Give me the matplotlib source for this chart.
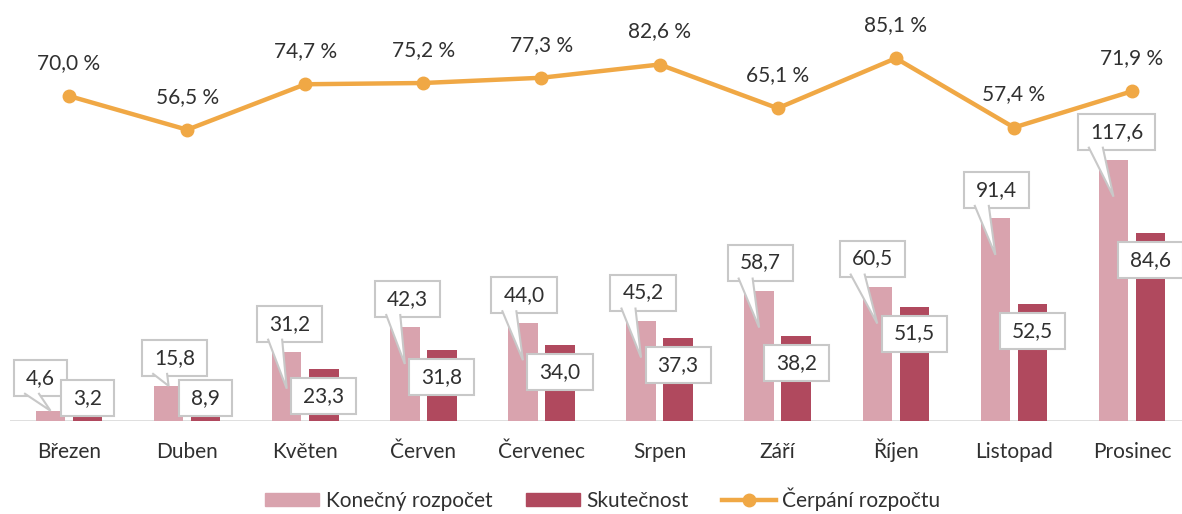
import numpy as np
import matplotlib
matplotlib.use('Agg')
import matplotlib.pyplot as plt
from matplotlib.patches import Patch, Polygon, Rectangle
from matplotlib.lines import Line2D

plt.rcParams['font.family'] = ['Lato', 'DejaVu Sans']

# data
mesice = ['Březen', 'Duben', 'Květen', 'Červen', 'Červenec', 'Srpen',
          'Září', 'Říjen', 'Listopad', 'Prosinec']
konecny = [4.6, 15.8, 31.2, 42.3, 44.0, 45.2, 58.7, 60.5, 91.4, 117.6]
skutecnost = [3.2, 8.9, 23.3, 31.8, 34.0, 37.3, 38.2, 51.5, 52.5, 84.6]
cerpani = [70.0, 56.5, 74.7, 75.2, 77.3, 82.6, 65.1, 85.1, 57.4, 71.9]

# horizontal shift of the callouts (pixels), as placed in the original
kon_dx = [-10, 6, 3, 3, 1, 2, 1, -5, 1, 3]

c_pink = '#D9A3AE'
c_red = '#B0495E'
c_orange = '#F0A845'
c_text = '#303030'
c_box = '#C8C8C8'
fs = 15

W, H = 1182, 514
fig = plt.figure(figsize=(W / 100, H / 100), dpi=100)
ax_left, ax_bottom = 10 / W, (H - 421) / H
ax_w, ax_h = 1 - ax_left, 400 / H
ax = fig.add_axes([ax_left, ax_bottom, ax_w, ax_h])
ax2 = ax.twinx()

x = np.arange(len(mesice))
xmin, xmax = -0.5, 9.423
ymax = 180
ax.set_xlim(xmin, xmax)
ax.set_ylim(0, ymax)
ax2.set_ylim(-60, 100)

# pixel -> data units
px_x = (xmax - xmin) / (ax_w * W)
px_y = ymax / (ax_h * H)
px_y2 = 160 / (ax_h * H)

off = 0.157
bw = 0.25
ax.bar(x - off, konecny, bw, color=c_pink, zorder=2)
ax.bar(x + off, skutecnost, bw, color=c_red, zorder=2)

ax2.plot(x, cerpani, color=c_orange, lw=3.2, marker='o', ms=9, zorder=3)
for xi, v in zip(x, cerpani):
    ax2.text(xi, v + 33 * px_y2, f'{v:.1f} %'.replace('.', ','), ha='center',
             va='center', fontsize=fs, color=c_text)

renderer = fig.canvas.get_renderer()
box_h = 36


def label_box(tx, ty, s, z):
    t = ax.text(tx, ty, s, ha='center', va='center', fontsize=fs,
                color=c_text, zorder=z + 1)
    w = t.get_window_extent(renderer).width + 24
    ax.add_patch(Rectangle((tx - w / 2 * px_x, ty - box_h / 2 * px_y),
                           w * px_x, box_h * px_y, fc='white', ec=c_box,
                           lw=1.5, zorder=z))
    return w


# callouts for Konečný rozpočet
for xi, v, dx in zip(x, konecny, kon_dx):
    bx = xi - off
    tx = bx + dx * px_x
    ty = v + (33 if v / px_y < 20 else 28) * px_y
    w = label_box(tx, ty, f'{v:.1f}'.replace('.', ','), 5)
    depth = 37 if v / px_y > 60 else 0
    tip = (bx, v - depth * px_y)
    by = ty - (box_h / 2 - 2) * px_y
    left = tx - w / 2 * px_x
    b1 = (left + 11 * px_x, by)
    b2 = (left + 25 * px_x, by)
    ax.add_patch(Polygon([b1, tip, b2], closed=True, fc='white', ec='none', zorder=6.5))
    ax.plot([b1[0], tip[0], b2[0]], [b1[1], tip[1], b2[1]], color=c_box, lw=1.5,
            zorder=6.6, solid_joinstyle='miter')

# labels for Skutečnost
for xi, v in zip(x, skutecnost):
    ty = max(v - 27 * px_y, 23 * px_y)
    label_box(xi + off, ty, f'{v:.1f}'.replace('.', ','), 8)

ax.set_xticks(x)
ax.set_xticklabels(mesice, fontsize=fs, color=c_text, va='baseline')
ax.tick_params(axis='x', length=0, pad=27)
ax.set_yticks([])
ax2.set_yticks([])
for a in (ax, ax2):
    for s in ('top', 'left', 'right', 'bottom'):
        a.spines[s].set_visible(False)
ax.axhline(0, color='#D9D9D9', lw=1.2, zorder=1)
ax.set_zorder(ax2.get_zorder() + 1)
ax.patch.set_visible(False)

handles = [Patch(color=c_pink, label='Konečný rozpočet'),
           Patch(color=c_red, label='Skutečnost'),
           Line2D([], [], color=c_orange, lw=3.2, marker='o', ms=9,
                  label='Čerpání rozpočtu')]
leg = fig.legend(handles=handles, loc='center', bbox_to_anchor=(0.51, 15 / H),
                 ncol=3, frameon=False, fontsize=fs, handlelength=2.6,
                 handleheight=0.6, handletextpad=0.3, columnspacing=1.6)
for t in leg.get_texts():
    t.set_color(c_text)

fig.savefig('out.png', dpi=100)
